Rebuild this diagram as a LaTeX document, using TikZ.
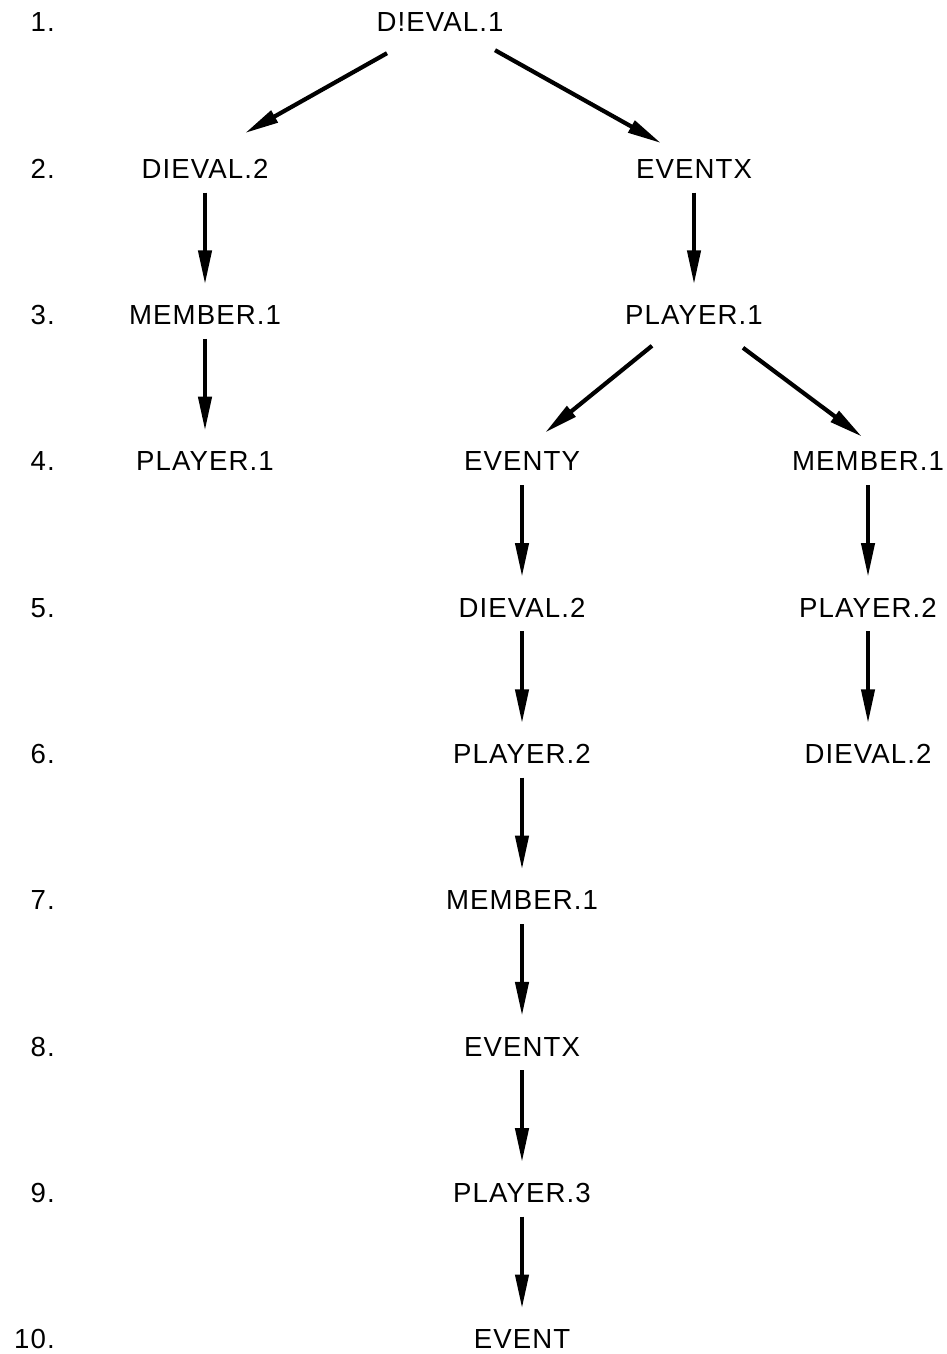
\documentclass[tikz,border=0pt]{standalone}
\usepackage{fontspec}
\setmainfont{Liberation Sans}[LetterSpace=4]
\usepackage{tikz}
\usetikzlibrary{arrows.meta}

\begin{document}
\begin{tikzpicture}[x=1pt,y=1pt]
% Styles
\tikzstyle{fleche}=[-{Triangle[length=34pt,width=13pt]},line width=4.2pt]
\tikzstyle{descente}=[fleche,shorten <=14pt,shorten >=20pt]
\tikzstyle{mot}=[inner sep=0pt,text height=20pt,text depth=0pt,font=\fontsize{27.6}{30}\selectfont]
\tikzstyle{numero}=[mot,anchor=east]
% Dimensions
\def\Haut{22}
\def\DistanceInterNiveaux{146.3}
\def\ColonneNum{55}
\def\ColonneA{205}
\def\ColonneB{440}
\def\ColonneC{522}
\def\ColonneD{694}
\def\ColonneE{868}
% Niveaux
\def\NiveauA{-\Haut-(0)*\DistanceInterNiveaux}
\def\NiveauB{-\Haut-(1)*\DistanceInterNiveaux}
\def\NiveauC{-\Haut-(2)*\DistanceInterNiveaux}
\def\NiveauD{-\Haut-(3)*\DistanceInterNiveaux}
\def\NiveauE{-\Haut-(4)*\DistanceInterNiveaux}
\def\NiveauF{-\Haut-(5)*\DistanceInterNiveaux}
\def\NiveauG{-\Haut-(6)*\DistanceInterNiveaux}
\def\NiveauH{-\Haut-(7)*\DistanceInterNiveaux}
\def\NiveauI{-\Haut-(8)*\DistanceInterNiveaux}
\def\NiveauJ{-\Haut-(9)*\DistanceInterNiveaux}
\useasboundingbox (0,0) rectangle (946,-1354);
% Numeros
\node[numero] (N1) at ({\ColonneNum},{\NiveauA}) {1.};
\node[numero] (N2) at ({\ColonneNum},{\NiveauB}) {2.};
\node[numero] (N3) at ({\ColonneNum},{\NiveauC}) {3.};
\node[numero] (N4) at ({\ColonneNum},{\NiveauD}) {4.};
\node[numero] (N5) at ({\ColonneNum},{\NiveauE}) {5.};
\node[numero] (N6) at ({\ColonneNum},{\NiveauF}) {6.};
\node[numero] (N7) at ({\ColonneNum},{\NiveauG}) {7.};
\node[numero] (N8) at ({\ColonneNum},{\NiveauH}) {8.};
\node[numero] (N9) at ({\ColonneNum},{\NiveauI}) {9.};
\node[numero] (N10) at ({\ColonneNum},{\NiveauJ}) {10.};
% Noeuds
\node[mot] (R) at ({\ColonneB},{\NiveauA}) {D!EVAL.1};
\node[mot] (Ra) at ({\ColonneA},{\NiveauB}) {DIEVAL.2};
\node[mot] (Raa) at ({\ColonneA},{\NiveauC}) {MEMBER.1};
\node[mot] (Raaa) at ({\ColonneA},{\NiveauD}) {PLAYER.1};
\node[mot] (Rb) at ({\ColonneD},{\NiveauB}) {EVENTX};
\node[mot] (Rba) at ({\ColonneD},{\NiveauC}) {PLAYER.1};
\node[mot] (Rbaa) at ({\ColonneC},{\NiveauD}) {EVENTY};
\node[mot] (Rbaaa) at ({\ColonneC},{\NiveauE}) {DIEVAL.2};
\node[mot] (Rbaaaa) at ({\ColonneC},{\NiveauF}) {PLAYER.2};
\node[mot] (Rbaaaaa) at ({\ColonneC},{\NiveauG}) {MEMBER.1};
\node[mot] (Rbaaaaaa) at ({\ColonneC},{\NiveauH}) {EVENTX};
\node[mot] (Rbaaaaaaa) at ({\ColonneC},{\NiveauI}) {PLAYER.3};
\node[mot] (Rbaaaaaaaa) at ({\ColonneC},{\NiveauJ}) {EVENT};
\node[mot] (Rbb) at ({\ColonneE},{\NiveauD}) {MEMBER.1};
\node[mot] (Rbba) at ({\ColonneE},{\NiveauE}) {PLAYER.2};
\node[mot] (Rbbaa) at ({\ColonneE},{\NiveauF}) {DIEVAL.2};
% Arcs
\draw[fleche] ([shift={(-53,-21)}]R.south)--([shift={(40,25)}]Ra.north);
\draw[fleche] ([shift={(55,-18)}]R.south)--([shift={(-33,15)}]Rb.north);
\draw[descente] (Ra)--(Raa);
\draw[descente] (Raa)--(Raaa);
\draw[descente] (Rb)--(Rba);
\draw[fleche] ([shift={(-42,-21)}]Rba.south)--([shift={(23,18)}]Rbaa.north);
\draw[fleche] ([shift={(49,-23)}]Rba.south)--([shift={(-6,14)}]Rbb.north);
\draw[descente] (Rbaa)--(Rbaaa);
\draw[descente] (Rbaaa)--(Rbaaaa);
\draw[descente] (Rbaaaa)--(Rbaaaaa);
\draw[descente] (Rbaaaaa)--(Rbaaaaaa);
\draw[descente] (Rbaaaaaa)--(Rbaaaaaaa);
\draw[descente] (Rbaaaaaaa)--(Rbaaaaaaaa);
\draw[descente] (Rbb)--(Rbba);
\draw[descente] (Rbba)--(Rbbaa);
\end{tikzpicture}
\end{document}
